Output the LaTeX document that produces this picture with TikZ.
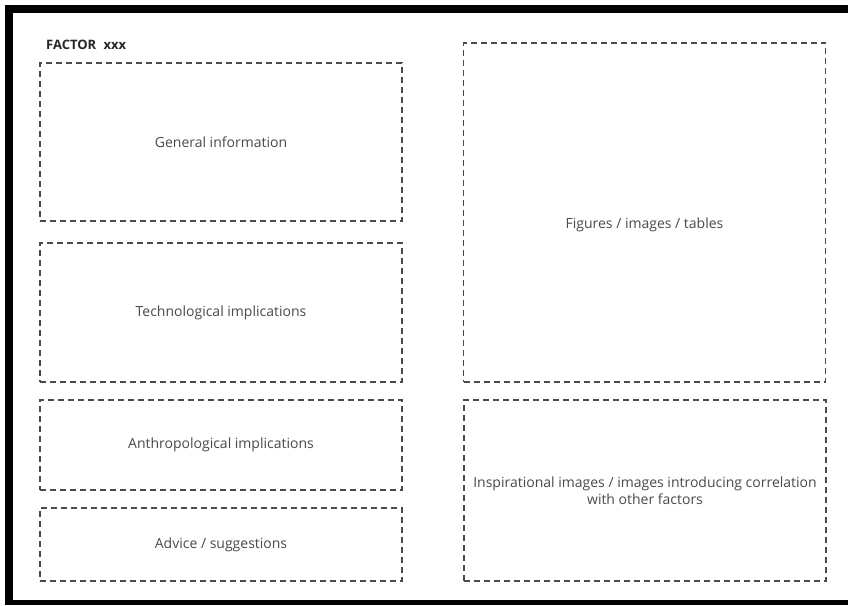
\documentclass[tikz,border=0pt]{standalone}
\usepackage{fontspec}
\setmainfont{Open Sans}
\definecolor{boxgray}{HTML}{4A4A4A}
\definecolor{txtgray}{HTML}{4A4A4A}
\tikzset{
  dbox/.style={draw=boxgray, dash pattern=on 6pt off 4pt, line width=1.3pt, inner sep=0pt, font=\fontsize{14}{17}\selectfont, text=txtgray},
  btext/.style={font=\fontsize{14}{17}\selectfont, text=txtgray, inner sep=0pt},
  ttl/.style={font=\bfseries\fontsize{13}{16}\selectfont, text=black!85, inner sep=0pt, anchor=west}
}
\begin{document}
\begin{tikzpicture}[x=1pt,y=-1pt]
\fill[white] (0,0) rectangle (848,605);
\fill[black] (5,5) rectangle (848,13);
\fill[black] (5,5) rectangle (13,605);
\fill[black] (5,600) rectangle (848,605);
\node[ttl] (title) at (46,45) {FACTOR\hspace{0.3em} xxx};
\node[dbox, minimum width=362pt, minimum height=158pt] (gen) at (221,142) {General information};
\node[dbox, minimum width=362pt, minimum height=139pt] (tech) at (221,312.5) {Technological implications};
\node[dbox, minimum width=362pt, minimum height=90pt] (anth) at (221,445) {Anthropological implications};
\node[dbox, minimum width=362pt, minimum height=73pt] (adv) at (221,544.5) {Advice / suggestions};
\node[dbox, minimum width=362pt, minimum height=339pt] (fig) at (644.5,212.5) {};
\node[btext] (figt) at (644.5,225) {Figures / images / tables};
\node[dbox, minimum width=362pt, minimum height=181pt, align=center] (insp) at (645,490.5) {Inspirational images / images introducing correlation\\with other factors};
\end{tikzpicture}
\end{document}
